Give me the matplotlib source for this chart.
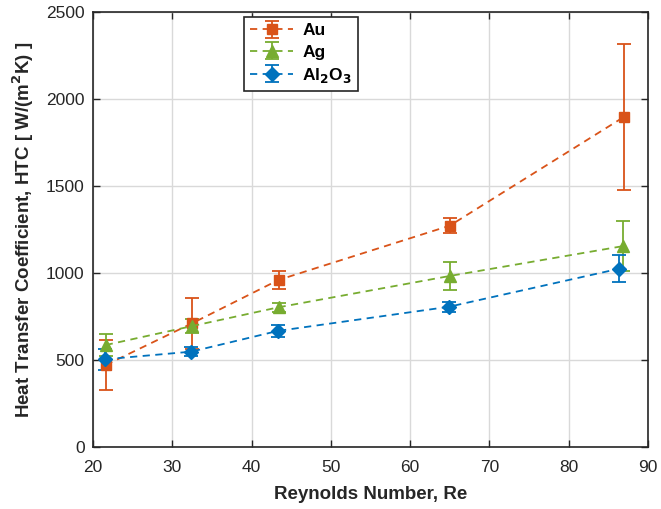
import numpy as np
import matplotlib
matplotlib.use("Agg")
import matplotlib.pyplot as plt

plt.rcParams['font.family'] = ['Liberation Sans', 'DejaVu Sans']

# Reynolds numbers for each nanofluid
re_au = [21.6, 32.5, 43.4, 65.0, 87.0]
re_ag = [21.6, 32.5, 43.4, 65.0, 86.9]
re_al = [21.5, 32.4, 43.3, 64.9, 86.4]

# heat transfer coefficient and error half-widths
htc_au = [471, 711, 960, 1272, 1898]
err_au = [143, 147, 50, 43, 420]
htc_ag = [586, 695, 803, 983, 1155]
err_ag = [63, 40, 25, 78, 142]
htc_al = [504, 548, 667, 806, 1025]
err_al = [62, 25, 32, 30, 77]

c_au = '#D95319'
c_ag = '#77AC30'
c_al = '#0072BD'

fig = plt.figure(figsize=(6.61, 5.09), dpi=100)
ax = fig.add_axes([0.1407, 0.1218, 0.8396, 0.8546])

kw = dict(ls='--', lw=1.3, capsize=5, elinewidth=1.3, capthick=1.3, dashes=(4, 3))
ax.errorbar(re_au, htc_au, yerr=err_au, color=c_au, marker='s', ms=7, label='Au', **kw)
ax.errorbar(re_ag, htc_ag, yerr=err_ag, color=c_ag, marker='^', ms=9, label='Ag', **kw)
ax.errorbar(re_al, htc_al, yerr=err_al, color=c_al, marker='D', ms=7,
            label='Al$_\\mathbf{2}$O$_\\mathbf{3}$', **kw)

ax.set_xlim(20, 90)
ax.set_ylim(0, 2500)
ax.set_xticks(np.arange(20, 91, 10))
ax.set_yticks(np.arange(0, 2501, 500))
ax.grid(True, color='#d9d9d9', lw=1)
ax.set_axisbelow(True)
ax.tick_params(direction='in', top=True, right=True, labelsize=12.5, length=5, width=1,
               colors='#262626', pad=6)
ax.tick_params(axis='x', pad=9)
for s in ax.spines.values():
    s.set_color('#262626')
    s.set_linewidth(1.2)

ax.set_xlabel('Reynolds Number, Re', fontsize=13.5, fontweight='bold', color='#262626',
              labelpad=8)
ax.set_ylabel('Heat Transfer Coefficient, HTC [ W/(m$^\\mathbf{2}$K) ]', fontsize=13.5,
              fontweight='bold', color='#262626', labelpad=7)

leg = ax.legend(loc='upper left', bbox_to_anchor=(0.272, 0.988), borderaxespad=0,
                fancybox=False, edgecolor='#262626', framealpha=1,
                prop={'weight': 'bold', 'size': 12.5}, handlelength=2.5, borderpad=0.35,
                labelspacing=0.35, handletextpad=0.5)
leg.get_frame().set_linewidth(1.2)

fig.savefig('out.png', dpi=100)
